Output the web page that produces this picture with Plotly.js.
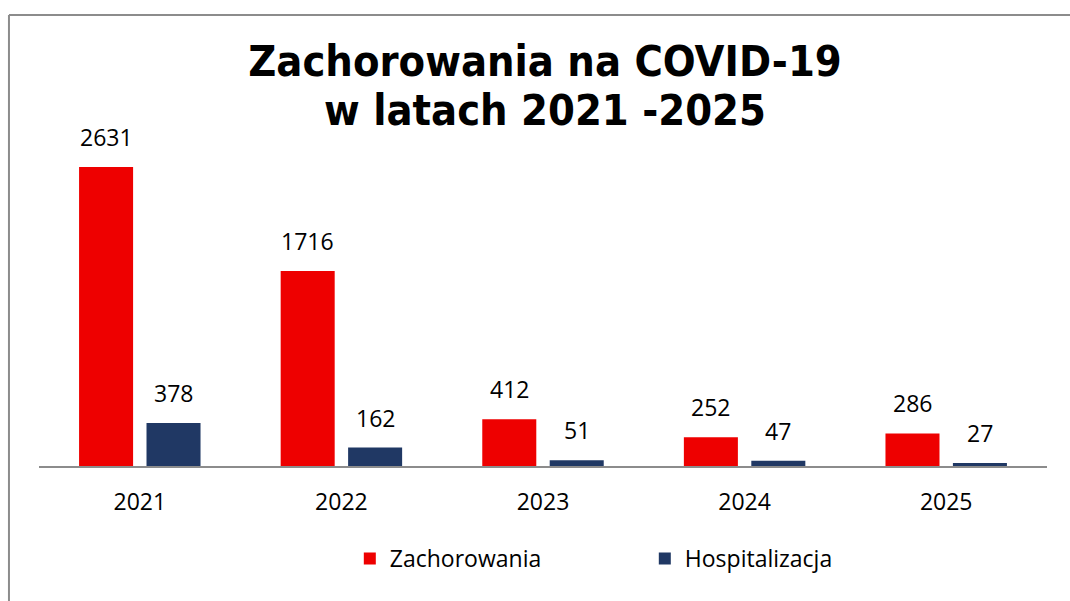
<!DOCTYPE html>
<html>
<head>
<meta charset="utf-8">
<script src="https://cdn.plot.ly/plotly-3.0.1.min.js"></script>
<style>html,body{margin:0;padding:0;background:#fff;}#chart{width:1070px;height:601px;}</style>
</head>
<body>
<div id="chart"></div>
<script>
const years = ["2021", "2022", "2023", "2024", "2025"];
const zachorowania = [2631, 1716, 412, 252, 286];
const hospitalizacja = [378, 162, 51, 47, 27];
const seriesNames = ["Zachorowania", "Hospitalizacja"];
const seriesColors = ["#EE0000", "#203864"];
const titleLine1 = "Zachorowania na COVID-19";
const titleLine2 = "w latach 2021 -2025";

const labelFont = {family: "Open Sans, Lato, sans-serif", size: 23, color: "#000"};
const titleFont = {family: "DejaVu Sans Condensed, DejaVu Sans, sans-serif", size: 43, color: "#000", weight: 700};

const traces = [
  {type: "bar", name: seriesNames[0], x: years, y: zachorowania, marker: {color: seriesColors[0]}, hoverinfo: "x+y"},
  {type: "bar", name: seriesNames[1], x: years, y: hospitalizacja, marker: {color: seriesColors[1]}, hoverinfo: "x+y"}
];

const annotations = [];
[zachorowania, hospitalizacja].forEach((vals, si) => {
  vals.forEach((v, i) => {
    annotations.push({
      x: i, y: v, xref: "x", yref: "y",
      text: String(v), showarrow: false,
      xshift: si === 0 ? -33.7 : 33.7,
      yanchor: "bottom", yshift: 12,
      font: labelFont
    });
  });
});
annotations.push({
  text: "<b>" + titleLine2 + "</b>", showarrow: false,
  xref: "paper", yref: "paper", x: 0.502, xanchor: "center",
  y: 1.044, yanchor: "middle", font: titleFont
});

const layout = {
  width: 1070, height: 601,
  paper_bgcolor: "#fff", plot_bgcolor: "#fff",
  margin: {l: 39, r: 23, t: 125, b: 135},
  title: {
    text: "<b>" + titleLine1 + "</b>",
    font: titleFont,
    x: 0.502, xanchor: "center", xref: "paper",
    y: 0.898, yanchor: "middle", yref: "container"
  },
  barmode: "group",
  bargap: 0.331,
  bargroupgap: 0.199,
  xaxis: {
    type: "category", range: [-0.5, 4.5],
    showline: true, linecolor: "#8c8c8c", linewidth: 2,
    ticks: "", showgrid: false, zeroline: false,
    tickfont: labelFont,
    ticklabelstandoff: 14
  },
  yaxis: {
    range: [0, 3000], visible: false, showgrid: false, zeroline: false, fixedrange: true
  },
  showlegend: true,
  legend: {
    orientation: "h", x: 0.601, xanchor: "center", y: -0.208, yanchor: "top",
    font: labelFont, entrywidth: 250, itemwidth: 30
  },
  annotations: annotations,
  shapes: [
    {type: "line", xref: "paper", yref: "paper", x0: -0.0298, x1: -0.0298, y0: 1.3226, y1: -0.5,
     line: {color: "#8c8c8c", width: 2}},
    {type: "line", xref: "paper", yref: "paper", x0: -0.0298, x1: 1.05, y0: 1.3226, y1: 1.3226,
     line: {color: "#8c8c8c", width: 2}}
  ]
};

Plotly.newPlot("chart", traces, layout, {displayModeBar: false, staticPlot: true});
</script>
</body>
</html>
